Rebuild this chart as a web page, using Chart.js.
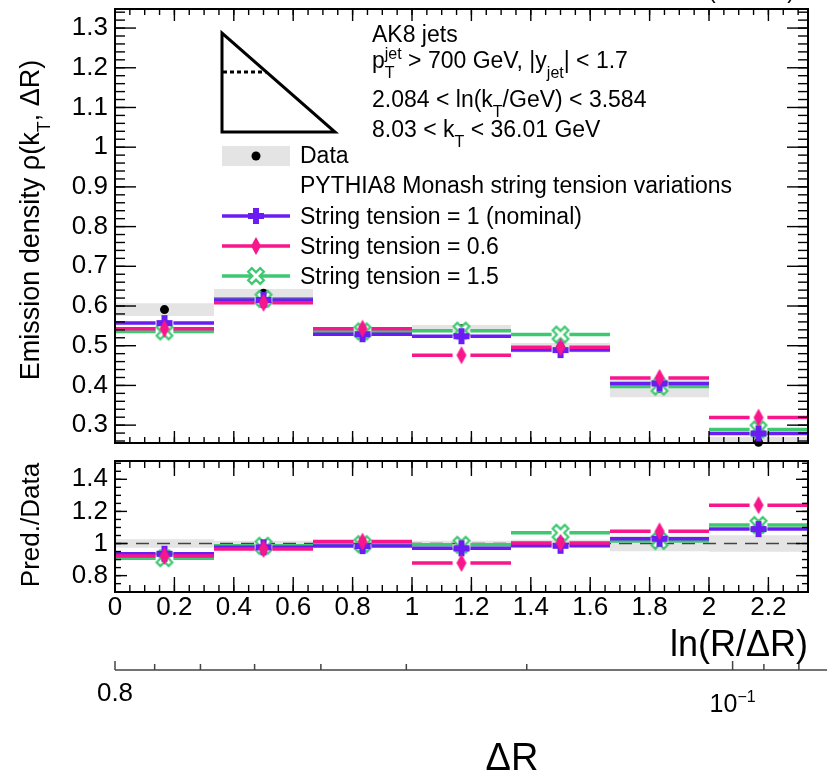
<!DOCTYPE html>
<html>
<head>
<meta charset="utf-8">
<script src="https://cdn.jsdelivr.net/npm/chart.js@4.4.1/dist/chart.umd.min.js"></script>
<style>
  html, body { margin: 0; padding: 0; background: #fff; }
  #wrap { position: relative; width: 827px; height: 779px; overflow: hidden; background: #fff; }
  #wrap canvas { position: absolute; left: 0; }
</style>
</head>
<body>
<div id="wrap">
  <canvas id="mainPanel" width="827" height="452" style="top:0"></canvas>
  <canvas id="ratioPanel" width="827" height="327" style="top:452px"></canvas>
</div>
<script>
// ---- binning in ln(R/ΔR), jet radius R = 0.8 ----
const R_JET = 0.8;
const binEdges = [0, 0.3333, 0.6667, 1.0, 1.3333, 1.6667, 2.0, 2.3333];

// ---- emission density, 2.084 < ln(kT/GeV) < 3.584 ----
const dataVals  = [0.591, 0.632, 0.537, 0.543, 0.495, 0.392, 0.257];
const dataErr   = [0.016, 0.011, 0.004, 0.009, 0.012, 0.022, 0.013];
const tension1  = [0.557, 0.615, 0.529, 0.524, 0.489, 0.405, 0.279];
const tension06 = [0.543, 0.608, 0.543, 0.476, 0.496, 0.419, 0.319];
const tension15 = [0.536, 0.618, 0.536, 0.538, 0.528, 0.397, 0.289];

// ---- prediction / data ----
const ratioErr  = [0.026, 0.017, 0.010, 0.018, 0.024, 0.048, 0.052];
const ratio1    = [0.936, 0.976, 0.984, 0.970, 0.986, 1.030, 1.090];
const ratio06   = [0.922, 0.966, 1.012, 0.879, 1.004, 1.076, 1.239];
const ratio15   = [0.909, 0.986, 0.996, 0.992, 1.067, 1.016, 1.115];

// ---- axis ticks ----
const xTicks       = [0, 0.2, 0.4, 0.6, 0.8, 1.0, 1.2, 1.4, 1.6, 1.8, 2.0, 2.2];
const xTickLabels  = ['0', '0.2', '0.4', '0.6', '0.8', '1', '1.2', '1.4', '1.6', '1.8', '2', '2.2'];
const yMainTicks   = [0.3, 0.4, 0.5, 0.6, 0.7, 0.8, 0.9, 1.0, 1.1, 1.2, 1.3];
const yMainLabels  = ['0.3', '0.4', '0.5', '0.6', '0.7', '0.8', '0.9', '1', '1.1', '1.2', '1.3'];
const yRatioTicks  = [0.8, 1.0, 1.2, 1.4];
const yRatioLabels = ['0.8', '1', '1.2', '1.4'];
const drTicks      = [0.8, 0.7, 0.6, 0.5, 0.4, 0.3, 0.2, 0.1, 0.09, 0.08];
const drLabels     = ['0.8', '', '', '', '', '', '', '', '', ''];

// ---- styles ----
const FONT = '"Liberation Sans", Arial, Helvetica, sans-serif';
const C_NOM = '#6a1cf2';
const C_06  = '#f7168c';
const C_15  = '#3fc872';
const C_BAND = '#e4e4e4';
const GAP = 0.03;   // half-gap around the marker on each bin bar (x units)

Chart.defaults.font.family = FONT;
Chart.defaults.color = '#000';

const xMax = binEdges[binEdges.length - 1];
const centers = binEdges.slice(0, -1).map((lo, i) => (lo + binEdges[i + 1]) / 2);

// ---- marker glyphs ----
function makeCanvas(w, h) { const c = document.createElement('canvas'); c.width = w; c.height = h; return c; }
function markerPlus(color) {
  const s = 18, c = makeCanvas(s, s), g = c.getContext('2d');
  g.fillStyle = color;
  g.fillRect(6, 1, 6, 16);
  g.fillRect(1, 6, 16, 6);
  return c;
}
function markerDiamond(color) {
  const c = makeCanvas(12, 20), g = c.getContext('2d');
  g.fillStyle = color;
  g.beginPath(); g.moveTo(6, 1); g.lineTo(11, 10); g.lineTo(6, 19); g.lineTo(1, 10); g.closePath(); g.fill();
  return c;
}
function markerOpenX(color) {
  const s = 22, c = makeCanvas(s, s), g = c.getContext('2d');
  const L = 8.5, t = 2.6;
  const pts = [[-t,-L],[t,-L],[t,-t],[L,-t],[L,t],[t,t],[t,L],[-t,L],[-t,t],[-L,t],[-L,-t],[-t,-t]];
  g.translate(s / 2, s / 2); g.rotate(Math.PI / 4);
  g.beginPath();
  pts.forEach(([x, y], i) => i ? g.lineTo(x, y) : g.moveTo(x, y));
  g.closePath();
  g.fillStyle = '#fff'; g.fill();
  g.lineWidth = 2.2; g.strokeStyle = color; g.stroke();
  return c;
}
const mkNom = markerPlus(C_NOM), mk06 = markerDiamond(C_06), mk15 = markerOpenX(C_15);

// ---- dataset helpers ----
function binSegments(vals) {
  const pts = [];
  vals.forEach((v, i) => {
    const lo = binEdges[i], hi = binEdges[i + 1], c = centers[i];
    pts.push({x: lo, y: v}, {x: c - GAP, y: v}, {x: c, y: null},
             {x: c + GAP, y: v}, {x: hi, y: v}, {x: hi, y: null});
  });
  return pts;
}
const atCenters = vals => vals.map((v, i) => ({x: centers[i], y: v}));
// histogram-style step outline over the bin edges
const stepOutline = vals => binEdges.map((x, i) => ({x, y: vals[Math.min(i, vals.length - 1)]}));

function seriesSets(vals, color, marker, order) {
  return [
    {type: 'line', data: binSegments(vals), borderColor: color, borderWidth: 3.5,
     pointRadius: 0, spanGaps: false, tension: 0, order: order + 1},
    {type: 'line', data: atCenters(vals), showLine: false, pointStyle: marker,
     pointRadius: 8, clip: false, order: order}
  ];
}
// uncertainty band: upper step outline, lower step outline filled up to it
function bandSets(mid, errs) {
  const up = mid.map((v, i) => v + errs[i]);
  const dn = mid.map((v, i) => v - errs[i]);
  return [
    {type: 'line', data: stepOutline(up), stepped: 'before', borderWidth: 0, borderColor: 'rgba(0,0,0,0)',
     pointRadius: 0, fill: false, order: 21},
    {type: 'line', data: stepOutline(dn), stepped: 'before', borderWidth: 0, borderColor: 'rgba(0,0,0,0)',
     pointRadius: 0, fill: '-1', backgroundColor: C_BAND, order: 20}
  ];
}

// ---- rich text with sub/superscripts ----
function richText(ctx, x, y, parts, size, align) {
  const small = Math.round(size * 0.68);
  const big = size + 'px ' + FONT, sm = small + 'px ' + FONT;
  const width = p => {
    if (typeof p === 'string') { ctx.font = big; return ctx.measureText(p).width; }
    ctx.font = sm;
    return Math.max(p.sub ? ctx.measureText(p.sub).width : 0, p.sup ? ctx.measureText(p.sup).width : 0);
  };
  const total = parts.reduce((s, p) => s + width(p), 0);
  let cx = align === 'right' ? x - total : align === 'center' ? x - total / 2 : x;
  ctx.textAlign = 'left'; ctx.textBaseline = 'alphabetic';
  parts.forEach(p => {
    const w = width(p);
    if (typeof p === 'string') { ctx.font = big; ctx.fillText(p, cx, y); }
    else {
      ctx.font = sm;
      if (p.sub) ctx.fillText(p.sub, cx, y + size * 0.42);
      if (p.sup) ctx.fillText(p.sup, cx, y - size * 0.38);
    }
    cx += w;
  });
  return total;
}

// ---- frame with inward ticks on all four sides ----
function minorRange(lo, hi, step) {
  const out = [];
  for (let k = Math.ceil(lo / step - 1e-6); k * step <= hi + 1e-9; k++) out.push(+(k * step).toFixed(4));
  return out;
}
function frameTicksPlugin(cfg) {
  return {
    id: 'frameTicks',
    afterDatasetsDraw(chart) {
      const {ctx, chartArea: a} = chart;
      const xs = chart.scales.x, ys = chart.scales.y;
      ctx.save();
      ctx.strokeStyle = '#000';
      ctx.lineWidth = 1.4;
      const seg = (x1, y1, x2, y2) => { ctx.beginPath(); ctx.moveTo(x1, y1); ctx.lineTo(x2, y2); ctx.stroke(); };
      cfg.xMinor.forEach(v => { const p = xs.getPixelForValue(v); seg(p, a.bottom, p, a.bottom - cfg.xMinLen); seg(p, a.top, p, a.top + cfg.xMinLen); });
      cfg.xMajor.forEach(v => { const p = xs.getPixelForValue(v); seg(p, a.bottom, p, a.bottom - cfg.xMajLen); seg(p, a.top, p, a.top + cfg.xMajLen); });
      cfg.yMinor.forEach(v => { const p = ys.getPixelForValue(v); seg(a.left, p, a.left + cfg.yMinLen, p); seg(a.right, p, a.right - cfg.yMinLen, p); });
      cfg.yMajor.forEach(v => { const p = ys.getPixelForValue(v); seg(a.left, p, a.left + cfg.yMajLen, p); seg(a.right, p, a.right - cfg.yMajLen, p); });
      ctx.lineWidth = 2;
      ctx.strokeRect(a.left, a.top, a.right - a.left, a.bottom - a.top);
      ctx.restore();
    }
  };
}

function yScale(min, max, ticks, labels) {
  return {
    type: 'linear', min, max,
    afterBuildTicks: s => { s.ticks = ticks.map(v => ({value: v})); },
    ticks: {callback: v => labels[ticks.indexOf(v)], font: {size: 26}, color: '#000', padding: 7},
    grid: {display: false, drawTicks: false},
    border: {display: false},
    afterFit: s => { s.width = 115; s.paddingTop = 0; s.paddingBottom = 0; }
  };
}

// ---- upper panel: emission density ----
const mainDecor = {
  id: 'mainDecor',
  afterDraw(chart) {
    const ctx = chart.ctx;
    ctx.save();
    ctx.fillStyle = '#000';

    // y-axis title
    ctx.save();
    ctx.translate(39, 220); ctx.rotate(-Math.PI / 2);
    richText(ctx, 0, 0, ['Emission density ρ(k', {sub: 'T'}, ', ΔR)'], 27, 'center');
    ctx.restore();

    // centre-of-mass energy, clipped at the top edge
    ctx.font = '23px ' + FONT; ctx.textAlign = 'right'; ctx.textBaseline = 'alphabetic';
    ctx.fillText('(13 TeV)', 795, -2);

    // Lund-plane triangle with the kT slice
    ctx.strokeStyle = '#000'; ctx.lineWidth = 3; ctx.lineJoin = 'miter';
    ctx.beginPath(); ctx.moveTo(222, 33); ctx.lineTo(222, 132); ctx.lineTo(335, 132); ctx.closePath(); ctx.stroke();
    ctx.setLineDash([4, 3]);
    ctx.beginPath(); ctx.moveTo(223, 72); ctx.lineTo(266, 72); ctx.stroke();
    ctx.setLineDash([]);

    // selection text
    const fs = 23;
    richText(ctx, 372, 42, ['AK8 jets'], fs, 'left');
    richText(ctx, 372, 68, ['p', {sub: 'T', sup: 'jet'}, ' > 700 GeV, |y', {sub: 'jet'}, '| < 1.7'], fs, 'left');
    richText(ctx, 372, 107, ['2.084 < ln(k', {sub: 'T'}, '/GeV) < 3.584'], fs, 'left');
    richText(ctx, 372, 137, ['8.03 < k', {sub: 'T'}, ' < 36.01 GeV'], fs, 'left');

    // legend
    ctx.fillStyle = C_BAND; ctx.fillRect(222, 146, 68, 20);
    ctx.fillStyle = '#000'; ctx.beginPath(); ctx.arc(256, 156, 4.5, 0, 2 * Math.PI); ctx.fill();
    richText(ctx, 300, 163, ['Data'], fs, 'left');
    richText(ctx, 300, 193, ['PYTHIA8 Monash string tension variations'], fs, 'left');
    const entries = [
      [C_NOM, mkNom, 'String tension = 1 (nominal)', 216],
      [C_06,  mk06,  'String tension = 0.6', 246],
      [C_15,  mk15,  'String tension = 1.5', 276]
    ];
    entries.forEach(([col, mk, label, y]) => {
      ctx.strokeStyle = col; ctx.lineWidth = 3.5;
      ctx.beginPath(); ctx.moveTo(222, y); ctx.lineTo(290, y); ctx.stroke();
      ctx.drawImage(mk, 256 - mk.width / 2, y - mk.height / 2);
      ctx.fillStyle = '#000';
      richText(ctx, 300, y + 8, [label], fs, 'left');
    });
    ctx.restore();
  }
};

new Chart(document.getElementById('mainPanel'), {
  type: 'line',
  data: {
    datasets: [
      ...bandSets(dataVals, dataErr),
      {type: 'line', data: atCenters(dataVals), showLine: false, pointStyle: 'circle', pointRadius: 4.5,
       backgroundColor: '#000', borderColor: '#000', borderWidth: 0, clip: false, order: 19},
      ...seriesSets(tension15, C_15, mk15, 15),
      ...seriesSets(tension1, C_NOM, mkNom, 13),
      ...seriesSets(tension06, C_06, mk06, 11)
    ]
  },
  options: {
    responsive: false, animation: false, events: [],
    layout: {padding: {left: 0, top: 8, right: 19, bottom: 4}},
    plugins: {legend: {display: false}, tooltip: {enabled: false}, filler: {propagate: false}},
    scales: {
      x: {type: 'linear', min: 0, max: xMax, display: false, offset: false,
          afterBuildTicks: s => { s.ticks = xTicks.map(v => ({value: v})); }},
      y: yScale(0.255, 1.348, yMainTicks, yMainLabels)
    }
  },
  plugins: [
    frameTicksPlugin({xMajor: xTicks, xMinor: minorRange(0, xMax, 0.05), yMajor: yMainTicks,
                      yMinor: minorRange(0.26, 1.34, 0.02), xMajLen: 12, xMinLen: 6, yMajLen: 21, yMinLen: 10}),
    mainDecor
  ]
});

// ---- lower panel: prediction / data ----
const ratioDecor = {
  id: 'ratioDecor',
  afterDraw(chart) {
    const ctx = chart.ctx;
    const dr = chart.scales.dr;
    ctx.save();
    ctx.fillStyle = '#000';

    // y-axis title
    ctx.save();
    ctx.translate(39, 73); ctx.rotate(-Math.PI / 2);
    richText(ctx, 0, 0, ['Pred./Data'], 26, 'center');
    ctx.restore();

    // ln(R/ΔR) title
    richText(ctx, 808, 204, ['ln(R/ΔR)'], 36, 'right');

    // ΔR axis: line and upward ticks
    ctx.strokeStyle = '#444'; ctx.lineWidth = 1.5;
    const yAx = dr.top;
    ctx.beginPath(); ctx.moveTo(dr.left, yAx); ctx.lineTo(chart.width, yAx); ctx.stroke();
    drTicks.forEach(v => {
      const p = dr.getPixelForValue(v);
      const len = (v === 0.8 || v === 0.1) ? 9 : 6;
      ctx.beginPath(); ctx.moveTo(p, yAx); ctx.lineTo(p, yAx - len); ctx.stroke();
    });

    // 10^-1 label
    const p1 = dr.getPixelForValue(0.1);
    ctx.font = '25px ' + FONT;
    const w10 = ctx.measureText('10').width;
    ctx.font = '16px ' + FONT;
    const wExp = ctx.measureText('−1').width;
    const x0 = p1 - (w10 + wExp) / 2;
    ctx.textAlign = 'left'; ctx.textBaseline = 'alphabetic';
    ctx.font = '25px ' + FONT; ctx.fillText('10', x0, yAx + 42);
    ctx.font = '16px ' + FONT; ctx.fillText('−1', x0 + w10, yAx + 32);

    // ΔR title
    richText(ctx, 512, 318, ['ΔR'], 38, 'center');
    ctx.restore();
  }
};

new Chart(document.getElementById('ratioPanel'), {
  type: 'line',
  data: {
    datasets: [
      ...bandSets(ratioErr.map(() => 1), ratioErr),
      {type: 'line', data: [{x: 0, y: 1}, {x: xMax, y: 1}], borderColor: '#444', borderWidth: 1.6,
       borderDash: [13, 8], pointRadius: 0, order: 18},
      ...seriesSets(ratio15, C_15, mk15, 15),
      ...seriesSets(ratio1, C_NOM, mkNom, 13),
      ...seriesSets(ratio06, C_06, mk06, 11)
    ]
  },
  options: {
    responsive: false, animation: false, events: [],
    layout: {padding: {left: 0, top: 6, right: 19, bottom: 0}},
    plugins: {legend: {display: false}, tooltip: {enabled: false}, filler: {propagate: false}},
    scales: {
      x: {
        type: 'linear', position: 'bottom', min: 0, max: xMax, offset: false, weight: 0,
        afterBuildTicks: s => { s.ticks = xTicks.map(v => ({value: v})); },
        ticks: {callback: v => xTickLabels[xTicks.indexOf(v)], font: {size: 26}, color: '#000',
                padding: 0, maxRotation: 0, autoSkip: false},
        grid: {display: false, drawTicks: false},
        border: {display: false},
        afterFit: s => { s.height = 78; s.paddingLeft = 0; s.paddingRight = 0; }
      },
      dr: {
        type: 'logarithmic', position: 'bottom', reverse: true, weight: 1,
        min: R_JET * Math.exp(-xMax), max: R_JET,
        afterBuildTicks: s => { s.ticks = drTicks.map(v => ({value: v})); },
        ticks: {callback: v => drLabels[drTicks.indexOf(v)], font: {size: 26}, color: '#000',
                padding: 8, maxRotation: 0, autoSkip: false},
        grid: {display: false, drawTicks: false},
        border: {display: false},
        afterFit: s => { s.height = 109; s.paddingLeft = 0; s.paddingRight = 0; }
      },
      y: yScale(0.698, 1.514, yRatioTicks, yRatioLabels)
    }
  },
  plugins: [
    frameTicksPlugin({xMajor: xTicks, xMinor: minorRange(0, xMax, 0.05), yMajor: yRatioTicks,
                      yMinor: minorRange(0.7, 1.5, 0.05), xMajLen: 15, xMinLen: 7, yMajLen: 12, yMinLen: 6}),
    ratioDecor
  ]
});
</script>
</body>
</html>
